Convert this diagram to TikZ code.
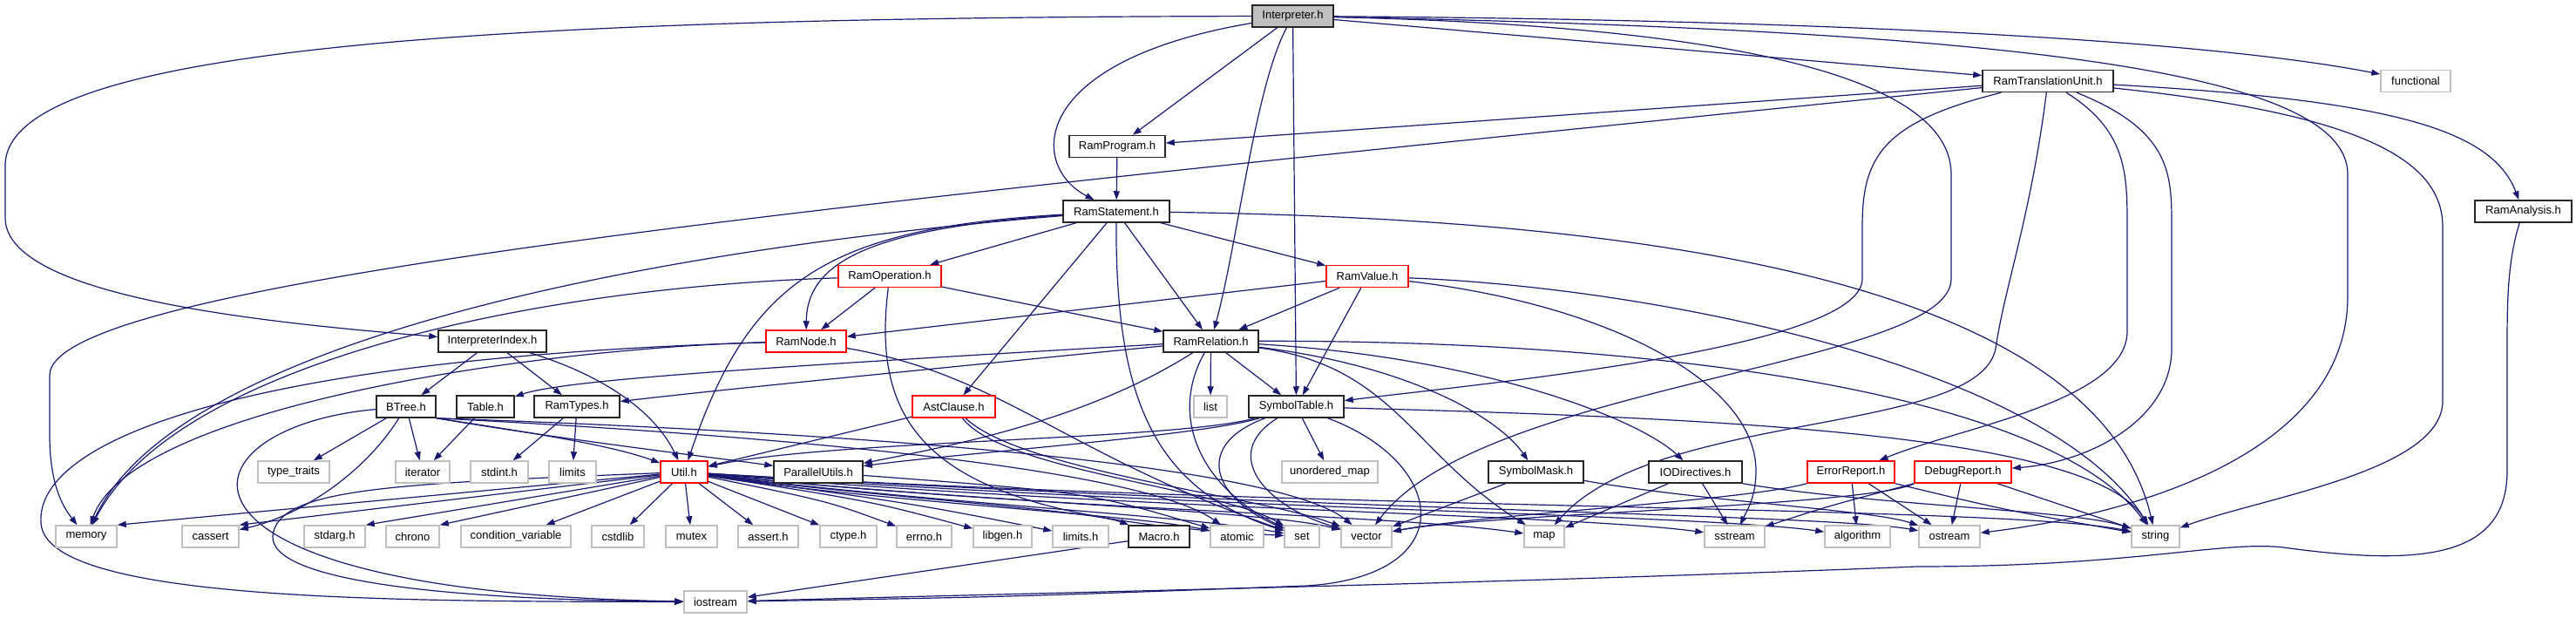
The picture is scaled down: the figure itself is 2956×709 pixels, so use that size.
\documentclass[tikz,border=0pt]{standalone}
\usepackage{fontspec}
\setmainfont{Liberation Sans}
\usetikzlibrary{arrows.meta}
\definecolor{edgec}{RGB}{25,25,112}
\definecolor{gbord}{RGB}{191,191,191}
\definecolor{ifill}{RGB}{191,191,191}
\pgfdeclarelayer{bg}
\pgfsetlayers{bg,main}
\newcommand{\nfont}{\fontsize{13}{15}\selectfont}
\tikzset{
 nbox/.style={draw=black!85, line width=1.5pt, fill=white, minimum height=25pt, inner sep=0pt, font=\nfont},
 gbox/.style={nbox, draw=gbord},
 rbox/.style={nbox, draw=red},
 ibox/.style={nbox, fill=ifill},
 ed/.style={draw=edgec, line width=1.2pt, -{Triangle[length=10pt,width=7pt]}},
}
\begin{document}
\begin{tikzpicture}[x=1pt,y=-1pt]
\useasboundingbox (0,0) rectangle (2956,709);
% row 0-4
\node[ibox, minimum width=93pt] (I) at (1483.5,18.5) {Interpreter.h};
\node[nbox, minimum width=150pt] (RTU) at (2350,93) {RamTranslationUnit.h};
\node[gbox, minimum width=80pt] (fun) at (2772,93) {functional};
\node[nbox, minimum width=110pt] (RP) at (1282,168) {RamProgram.h};
\node[nbox, minimum width=122pt] (RS) at (1281,242.5) {RamStatement.h};
\node[nbox, minimum width=111pt] (RA) at (2895.5,242.5) {RamAnalysis.h};
\node[rbox, minimum width=118pt] (RO) at (1021,317) {RamOperation.h};
\node[rbox, minimum width=94pt] (RV) at (1569,317) {RamValue.h};
% row 5
\node[nbox, minimum width=124pt] (IIdx) at (565,391.5) {InterpreterIndex.h};
\node[rbox, minimum width=92pt] (RN) at (925,391.5) {RamNode.h};
\node[nbox, minimum width=109pt] (RR) at (1389.5,391.5) {RamRelation.h};
% row 6
\node[nbox, minimum width=68pt] (BT) at (466,466.5) {BTree.h};
\node[nbox, minimum width=66pt] (TB) at (557,466.5) {Table.h};
\node[nbox, minimum width=98pt] (RT) at (662,466.5) {RamTypes.h};
\node[rbox, minimum width=95pt] (AC) at (1094.5,466.5) {AstClause.h};
\node[gbox, minimum width=38pt] (lst) at (1389,466.5) {list};
\node[nbox, minimum width=109pt] (ST) at (1487.5,466.5) {SymbolTable.h};
% row 7
\node[gbox, minimum width=82pt] (tt) at (337,541.5) {type\_traits};
\node[gbox, minimum width=62pt] (itr) at (485,541.5) {iterator};
\node[gbox, minimum width=66pt] (sti) at (573,541.5) {stdint.h};
\node[gbox, minimum width=54pt] (lim) at (657,541.5) {limits};
\node[rbox, minimum width=54pt] (U) at (785,541.5) {Util.h};
\node[nbox, minimum width=102pt] (PU) at (939,541.5) {ParallelUtils.h};
\node[gbox, minimum width=110pt] (um) at (1526,541.5) {unordered\_map};
\node[nbox, minimum width=109pt] (SM) at (1762.5,541.5) {SymbolMask.h};
\node[nbox, minimum width=107pt] (IOD) at (1945.5,541.5) {IODirectives.h};
\node[rbox, minimum width=100pt] (ER) at (2124,541.5) {ErrorReport.h};
\node[rbox, minimum width=111pt] (DR) at (2252.5,541.5) {DebugReport.h};
% row 8
\node[gbox, minimum width=70pt] (mem) at (99,615.5) {memory};
\node[gbox, minimum width=65pt] (cas) at (241.5,615.5) {cassert};
\node[gbox, minimum width=70pt] (sta) at (384,615.5) {stdarg.h};
\node[gbox, minimum width=61pt] (chr) at (473.5,615.5) {chrono};
\node[gbox, minimum width=126pt] (cv) at (592,615.5) {condition\_variable};
\node[gbox, minimum width=60pt] (csl) at (709,615.5) {cstdlib};
\node[gbox, minimum width=59pt] (mtx) at (793.5,615.5) {mutex};
\node[gbox, minimum width=69pt] (ash) at (881.5,615.5) {assert.h};
\node[gbox, minimum width=65pt] (cty) at (973.5,615.5) {ctype.h};
\node[gbox, minimum width=63pt] (err) at (1060.5,615.5) {errno.h};
\node[gbox, minimum width=67pt] (lgn) at (1150.5,615.5) {libgen.h};
\node[gbox, minimum width=64pt] (lmh) at (1240,615.5) {limits.h};
\node[nbox, minimum width=70pt] (MAC) at (1330,615.5) {Macro.h};
\node[gbox, minimum width=61pt] (atm) at (1419.5,615.5) {atomic};
\node[gbox, minimum width=40pt] (nset) at (1494,615.5) {set};
\node[gbox, minimum width=58pt] (nvec) at (1568,615.5) {vector};
\node[gbox, minimum width=46pt] (nmap) at (1772,615.5) {map};
\node[gbox, minimum width=69pt] (sst) at (1990.5,615.5) {sstream};
\node[gbox, minimum width=75pt] (alg) at (2131.5,615.5) {algorithm};
\node[gbox, minimum width=70pt] (ost) at (2237,615.5) {ostream};
\node[gbox, minimum width=55pt] (nstr) at (2473.5,615.5) {string};
% row 9
\node[gbox, minimum width=72pt] (ios) at (821,690.5) {iostream};

\begin{pgfonlayer}{bg}
\fill[white] (0,0) rectangle (2956,709);
% Interpreter.h
\draw[ed] (I) .. controls (500,20) and (6,60) .. (6,190) -- (6,250) .. controls (6,340) and (300,370) .. (IIdx);
\draw[ed] (I) -- (RP);
\draw[ed] (I) .. controls (1180,70) and (1180,190) .. (RS);
\draw[ed] (I) .. controls (1440,100) and (1420,280) .. (RR);
\draw[ed] (I) -- (ST);
\draw[ed] (I) -- (RTU);
\draw[ed] (I) .. controls (2000,22) and (2500,40) .. (fun);
\draw[ed] (I) .. controls (1900,28) and (2239,70) .. (2239,200) -- (2239,320) .. controls (2239,420) and (1700,440) .. (nvec);
\draw[ed] (I) .. controls (2300,35) and (2694,80) .. (2694,200) -- (2694,340) .. controls (2694,520) and (2450,590) .. (ost);
% RamTranslationUnit.h
\draw[ed] (RTU) -- (RP);
\draw[ed] (RTU) .. controls (1000,230) and (60,320) .. (57,430) -- (57,500) .. controls (57,560) and (75,585) .. (mem);
\draw[ed] (RTU) .. controls (2160,140) and (2137,180) .. (2137,260) -- (2137,320) .. controls (2137,400) and (1700,440) .. (ST);
\draw[ed] (RTU) .. controls (2330,250) and (2300,330) .. (2290,400) .. controls (2270,500) and (1900,470) .. (nmap);
\draw[ed] (RTU) .. controls (2441,150) and (2441,200) .. (2441,260) -- (2441,380) .. controls (2441,460) and (2250,490) .. (ER);
\draw[ed] (RTU) .. controls (2492,150) and (2492,200) .. (2492,260) -- (2492,400) .. controls (2492,480) and (2400,530) .. (DR);
\draw[ed] (RTU) .. controls (2700,130) and (2803,180) .. (2803,260) -- (2803,460) .. controls (2803,540) and (2600,570) .. (nstr);
\draw[ed] (RTU) .. controls (2750,115) and (2860,150) .. (RA);
% RamAnalysis.h
\draw[ed] (RA) .. controls (2877,300) and (2877,350) .. (2877,400) -- (2877,540) .. controls (2877,640) and (2780,650) .. (2620,628) .. controls (2550,620) and (2450,650) .. (2200,650) .. controls (1700,670) and (1200,680) .. (ios);
% RamProgram.h
\draw[ed] (RP) -- (RS);
% RamStatement.h
\draw[ed] (RS) -- (RO);
\draw[ed] (RS) -- (RV);
\draw[ed] (RS) .. controls (1000,262) and (926,300) .. (RN);
\draw[ed] (RS) -- (RR);
\draw[ed] (RS) -- (AC);
\draw[ed] (RS) .. controls (950,262) and (860,320) .. (U);
\draw[ed] (RS) .. controls (700,290) and (200,400) .. (mem);
\draw[ed] (RS) .. controls (1280,450) and (1320,560) .. (nset);
\draw[ed] (RS) .. controls (1800,250) and (2400,300) .. (nstr);
% RamOperation.h
\draw[ed] (RO) -- (RN);
\draw[ed] (RO) -- (RR);
\draw[ed] (RO) .. controls (600,330) and (200,420) .. (mem);
\draw[ed] (RO) .. controls (995,520) and (1100,595) .. (nset);
% RamValue.h
\draw[ed] (RV) -- (RN);
\draw[ed] (RV) -- (RR);
\draw[ed] (RV) -- (ST);
\draw[ed] (RV) .. controls (1850,350) and (2015,440) .. (2015,540) .. controls (2015,570) and (2005,585) .. (sst);
\draw[ed] (RV) .. controls (1900,330) and (2350,420) .. (nstr);
% RamNode.h
\draw[ed] (RN) .. controls (600,400) and (150,470) .. (mem);
\draw[ed] (RN) .. controls (300,410) and (40,500) .. (47,600) .. controls (52,690) and (450,690) .. (ios);
\draw[ed] (RN) .. controls (1150,430) and (1220,520) .. (nset);
% InterpreterIndex.h
\draw[ed] (IIdx) -- (BT);
\draw[ed] (IIdx) -- (RT);
\draw[ed] (IIdx) .. controls (690,430) and (750,470) .. (U);
% BTree.h
\draw[ed] (BT) -- (tt);
\draw[ed] (BT) -- (itr);
\draw[ed] (BT) .. controls (420,540) and (350,590) .. (cas);
\draw[ed] (BT) .. controls (200,490) and (150,680) .. (ios);
\draw[ed] (BT.south east) .. controls (600,495) and (700,510) .. (U);
\draw[ed] (BT.south east) .. controls (650,505) and (820,525) .. (PU);
\draw[ed] (BT.south east) .. controls (800,495) and (1300,530) .. (atm);
\draw[ed] (BT.south east) .. controls (800,490) and (1450,520) .. (nvec);
% Table.h, RamTypes.h
\draw[ed] (TB) -- (itr);
\draw[ed] (RT) -- (sti);
\draw[ed] (RT) -- (lim);
% AstClause.h
\draw[ed] (AC) -- (U);
\draw[ed] (AC) .. controls (1150,540) and (1400,560) .. (nset);
\draw[ed] (AC) .. controls (1170,540) and (1450,570) .. (nvec);
% SymbolTable.h
\draw[ed] (ST) -- (um);
\draw[ed] (ST) .. controls (1350,505) and (950,505) .. (U);
\draw[ed] (ST) .. controls (1380,500) and (1100,520) .. (PU);
\draw[ed] (ST) .. controls (2000,480) and (2400,500) .. (nstr);
\draw[ed] (ST) .. controls (1370,510) and (1390,570) .. (nset);
\draw[ed] (ST) .. controls (1400,520) and (1450,580) .. (nvec);
\draw[ed] (ST) .. controls (1660,530) and (1680,660) .. (1500,672) .. controls (1150,685) .. (ios);
% RamRelation.h
\draw[ed] (RR) -- (lst);
\draw[ed] (RR) -- (ST);
\draw[ed] (RR) .. controls (900,420) and (650,435) .. (TB);
\draw[ed] (RR) .. controls (1000,430) and (800,450) .. (RT);
\draw[ed] (RR) .. controls (1250,480) and (1100,510) .. (PU);
\draw[ed] (RR) .. controls (1620,420) and (1720,480) .. (SM);
\draw[ed] (RR) .. controls (1700,410) and (1880,480) .. (IOD);
\draw[ed] (RR) .. controls (1600,420) and (1620,520) .. (nmap);
\draw[ed] (RR) .. controls (1340,480) and (1380,560) .. (nset);
\draw[ed] (RR) .. controls (1900,390) and (2350,450) .. (nstr);
% Util.h
\draw[ed] (U) -- (mem.north east);
\draw[ed] (U) -- (cas.north east);
\draw[ed] (U) -- (sta.north east);
\draw[ed] (U) -- (chr.north east);
\draw[ed] (U) -- (cv);
\draw[ed] (U) -- (csl);
\draw[ed] (U) -- (mtx);
\draw[ed] (U) -- (ash);
\draw[ed] (U) -- (cty);
\draw[ed] (U) .. controls (950,575) .. (err);
\draw[ed] (U) .. controls (1000,575) .. (lgn);
\draw[ed] (U) .. controls (1050,578) .. (lmh);
\draw[ed] (U) .. controls (1000,570) and (1250,585) .. (MAC);
\draw[ed] (U) .. controls (1000,575) and (1300,590) .. (atm);
\draw[ed] (U) .. controls (1100,580) and (1350,590) .. (nset);
\draw[ed] (U) .. controls (1100,575) and (1450,585) .. (nvec);
\draw[ed] (U) .. controls (1200,585) and (1600,590) .. (nmap);
\draw[ed] (U) .. controls (1300,585) and (1800,590) .. (sst);
\draw[ed] (U) .. controls (1400,585) and (1950,590) .. (alg);
\draw[ed] (U) .. controls (1500,585) and (2100,590) .. (ost);
\draw[ed] (U) .. controls (1500,585) and (2300,580) .. (nstr);
\draw[ed] (U) .. controls (450,555) and (318,560) .. (313,615) .. controls (310,665) and (500,688) .. (ios);
% others
\draw[ed] (PU) .. controls (1250,565) .. (atm);
\draw[ed] (MAC) -- (ios);
\draw[ed] (SM) -- (nvec);
\draw[ed] (SM) .. controls (1950,575) and (2150,585) .. (ost);
\draw[ed] (IOD) -- (nmap);
\draw[ed] (IOD) -- (sst);
\draw[ed] (IOD.south east) .. controls (2150,580) and (2380,585) .. (nstr);
\draw[ed] (ER) -- (alg);
\draw[ed] (ER) -- (ost);
\draw[ed] (ER.south east) .. controls (2300,585) .. (nstr);
\draw[ed] (ER.south west) .. controls (2000,575) and (1700,590) .. (nvec);
\draw[ed] (DR) -- (ost);
\draw[ed] (DR) -- (nstr);
\draw[ed] (DR.south west) .. controls (2100,580) .. (sst);
\draw[ed] (DR.south west) .. controls (2150,580) and (1700,590) .. (nvec);
\end{pgfonlayer}
\end{tikzpicture}
\end{document}
